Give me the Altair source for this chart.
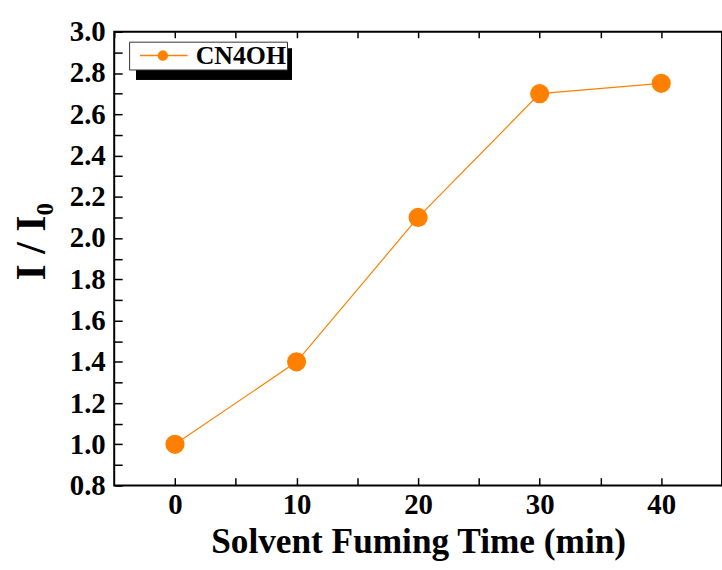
import altair as alt
import pandas as pd

# data
times = [0, 10, 20, 30, 40]
ratio = [1.0, 1.4, 2.1, 2.7, 2.75]
series = ["CN4OH", "CN4OH", "CN4OH", "CN4OH", "CN4OH"]

x_tick_values = [0, 5, 10, 15, 20, 25, 30, 35, 40]
x_top_values = [-5, 0, 5, 10, 15, 20, 25, 30, 35, 40, 45]
y_tick_values = [0.8, 0.9, 1.0, 1.1, 1.2, 1.3, 1.4, 1.5, 1.6, 1.7, 1.8, 1.9,
                 2.0, 2.1, 2.2, 2.3, 2.4, 2.5, 2.6, 2.7, 2.8, 2.9, 3.0]

df = pd.DataFrame({"t": times, "r": ratio, "s": series})

ORANGE = "#FF8000"
FONT = "Liberation Serif"

xscale = alt.Scale(domain=[-5, 45], nice=False, zero=False)
yscale = alt.Scale(domain=[0.8, 3.0], nice=False, zero=False)

# legend glyph: short line with a dot on it (units scaled by sqrt(size)/2)
legend_symbol = "M-0.3,0H4.5M1.55,0A0.45,0.45 0 1,0 2.45,0A0.45,0.45 0 1,0 1.55,0Z"

color = alt.Color(
    "s:N",
    scale=alt.Scale(domain=["CN4OH"], range=[ORANGE]),
    legend=alt.Legend(
        title=None,
        orient="none",
        legendX=15,
        legendY=10,
        fillColor="white",
        strokeColor="#333333",
        padding=1,
        symbolType=legend_symbol,
        symbolSize=400,
        symbolFillColor=ORANGE,
        symbolStrokeColor="#FFB070",
        symbolStrokeWidth=1.5,
        labelFont=FONT,
        labelFontSize=26,
        labelFontWeight="bold",
        labelColor="black",
        labelOffset=40,
    ),
)

y_axis = alt.Axis(
    orient="left",
    values=y_tick_values,
    labelExpr="round(datum.value * 10) % 2 == 0 ? format(datum.value, '.1f') : ''",
    title="I / I₀",
    offset=-8,
    tickSize=8,
    tickWidth=1.5,
    tickColor="black",
    domain=False,
    grid=False,
    labelFont=FONT,
    labelFontSize=29,
    labelFontWeight="bold",
    labelColor="black",
    labelPadding=9,
    titleFont=FONT,
    titleFontSize=42,
    titleFontWeight="bold",
    titleColor="black",
    titlePadding=16,
    titleY=211,
)

line = alt.Chart(df).mark_line(strokeWidth=1.2).encode(
    x=alt.X(
        "t:Q",
        scale=xscale,
        axis=alt.Axis(
            orient="bottom",
            values=x_tick_values,
            labelExpr="datum.value % 10 == 0 ? datum.label : ''",
            title="Solvent Fuming Time (min)",
            offset=-8,
            tickSize=8,
            tickWidth=1.5,
            tickColor="black",
            domain=False,
            grid=False,
            labelFont=FONT,
            labelFontSize=29,
            labelFontWeight="bold",
            labelColor="black",
            labelPadding=5,
            titleFont=FONT,
            titleFontSize=35.5,
            titleFontWeight="bold",
            titleColor="black",
            titlePadding=5,
        ),
    ),
    y=alt.Y("r:Q", scale=yscale, axis=y_axis),
    color=color,
)

points = alt.Chart(df).mark_point(filled=True, size=370, opacity=1, shape="circle").encode(
    x=alt.X(
        "t:Q",
        scale=xscale,
        axis=alt.Axis(
            orient="top",
            values=x_top_values,
            labels=False,
            title=None,
            offset=-6,
            tickSize=6,
            tickWidth=1.5,
            tickColor="black",
            domain=False,
            grid=False,
        ),
    ),
    y=alt.Y("r:Q", scale=yscale, axis=y_axis),
    color=color,
)

shadow = alt.Chart(df).mark_rect(color="black").encode(
    x=alt.value(22), x2=alt.value(179), y=alt.value(17), y2=alt.value(48)
)

chart = (
    alt.layer(line, points, shadow)
    .resolve_axis(x="independent")
    .properties(
        width=612,
        height=457,
        autosize=alt.AutoSizeParams(type="none"),
        padding={"left": 115, "top": 30, "right": 0, "bottom": 83},
        background="white",
    )
    .configure_view(stroke="black", strokeWidth=2)
)

chart.save("out.html", embed_options={"renderer": "svg", "actions": False})
